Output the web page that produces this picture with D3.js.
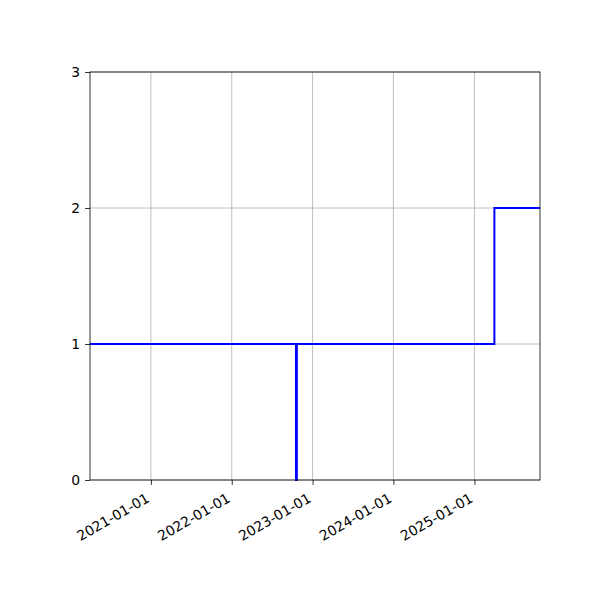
<!DOCTYPE html>
<html>
<head>
<meta charset="utf-8">
<script src="https://cdn.jsdelivr.net/npm/d3@7"></script>
<style>
  body { margin: 0; background: #fff; }
  svg { display: block; }
  .tick text { font-family: "DejaVu Sans", sans-serif; font-size: 13.9px; fill: #000; }
</style>
</head>
<body>
<div id="chartContainer"></div>
<script>
// step series
const dates = ["2020-04-01", "2022-10-18", "2022-10-22", "2025-04-01", "2025-10-24"];
const values = [1, 0, 1, 2, 2];
const xDomain = ["2020-04-01", "2025-10-24"];
const xTicks = ["2021-01-01", "2022-01-01", "2023-01-01", "2024-01-01", "2025-01-01"];
const yTicks = [0, 1, 2, 3];

function init() {
    const width = 600;
    const height = 600;
    const margin = { top: 72, right: 60, bottom: 120, left: 90 };

    const parse = d3.utcParse("%Y-%m-%d");
    const data = dates.map((d, i) => ({ date: parse(d), value: values[i] }));

    const svg = d3.select('#chartContainer')
        .append('svg')
        .attr('width', width)
        .attr('height', height);

    const scX = d3.scaleUtc()
        .domain(xDomain.map(parse))
        .range([margin.left, width - margin.right]);

    const scY = d3.scaleLinear()
        .domain([0, 3])
        .range([height - margin.bottom, margin.top]);

    // grid
    svg.append('g')
        .selectAll('line.vg')
        .data(xTicks.map(parse))
        .enter()
        .append('line')
        .attr('x1', d => scX(d)).attr('x2', d => scX(d))
        .attr('y1', margin.top).attr('y2', height - margin.bottom)
        .attr('stroke', '#b0b0b0').attr('stroke-width', 0.8);

    svg.append('g')
        .selectAll('line.hg')
        .data(yTicks)
        .enter()
        .append('line')
        .attr('x1', margin.left).attr('x2', width - margin.right)
        .attr('y1', d => scY(d)).attr('y2', d => scY(d))
        .attr('stroke', '#b0b0b0').attr('stroke-width', 0.8);

    // step line
    const lineMaker = d3.line()
        .curve(d3.curveStepAfter)
        .x(d => scX(d.date))
        .y(d => scY(d.value));

    svg.append('path')
        .attr('fill', 'none')
        .attr('stroke', '#0000ff')
        .attr('stroke-width', 2)
        .attr('d', lineMaker(data));

    // frame
    svg.append('rect')
        .attr('x', margin.left).attr('y', margin.top)
        .attr('width', width - margin.left - margin.right)
        .attr('height', height - margin.top - margin.bottom)
        .attr('fill', 'none').attr('stroke', '#000').attr('stroke-width', 0.8);

    // X axis
    const xAxis = d3.axisBottom(scX)
        .tickValues(xTicks.map(parse))
        .tickFormat(d3.utcFormat("%Y-%m-%d"))
        .tickSize(4.9)
        .tickPadding(3.5);

    const gx = svg.append('g')
        .attr('transform', `translate(0, ${height - margin.bottom})`)
        .call(xAxis);
    gx.select('.domain').remove();
    gx.selectAll('.tick line').attr('stroke', '#000').attr('stroke-width', 0.8);
    gx.selectAll('.tick text')
        .attr('text-anchor', 'end')
        .attr('dy', 0)
        .attr('y', 0)
        .attr('x', 0)
        .attr('transform', 'translate(-1, 21) rotate(-30)');

    // Y axis
    const yAxis = d3.axisLeft(scY)
        .tickValues(yTicks)
        .tickFormat(d3.format('d'))
        .tickSize(4.9)
        .tickPadding(4.9);

    const gy = svg.append('g')
        .attr('transform', `translate(${margin.left}, 0)`)
        .call(yAxis);
    gy.select('.domain').remove();
    gy.selectAll('.tick line').attr('stroke', '#000').attr('stroke-width', 0.8);
}

init();
</script>
</body>
</html>
